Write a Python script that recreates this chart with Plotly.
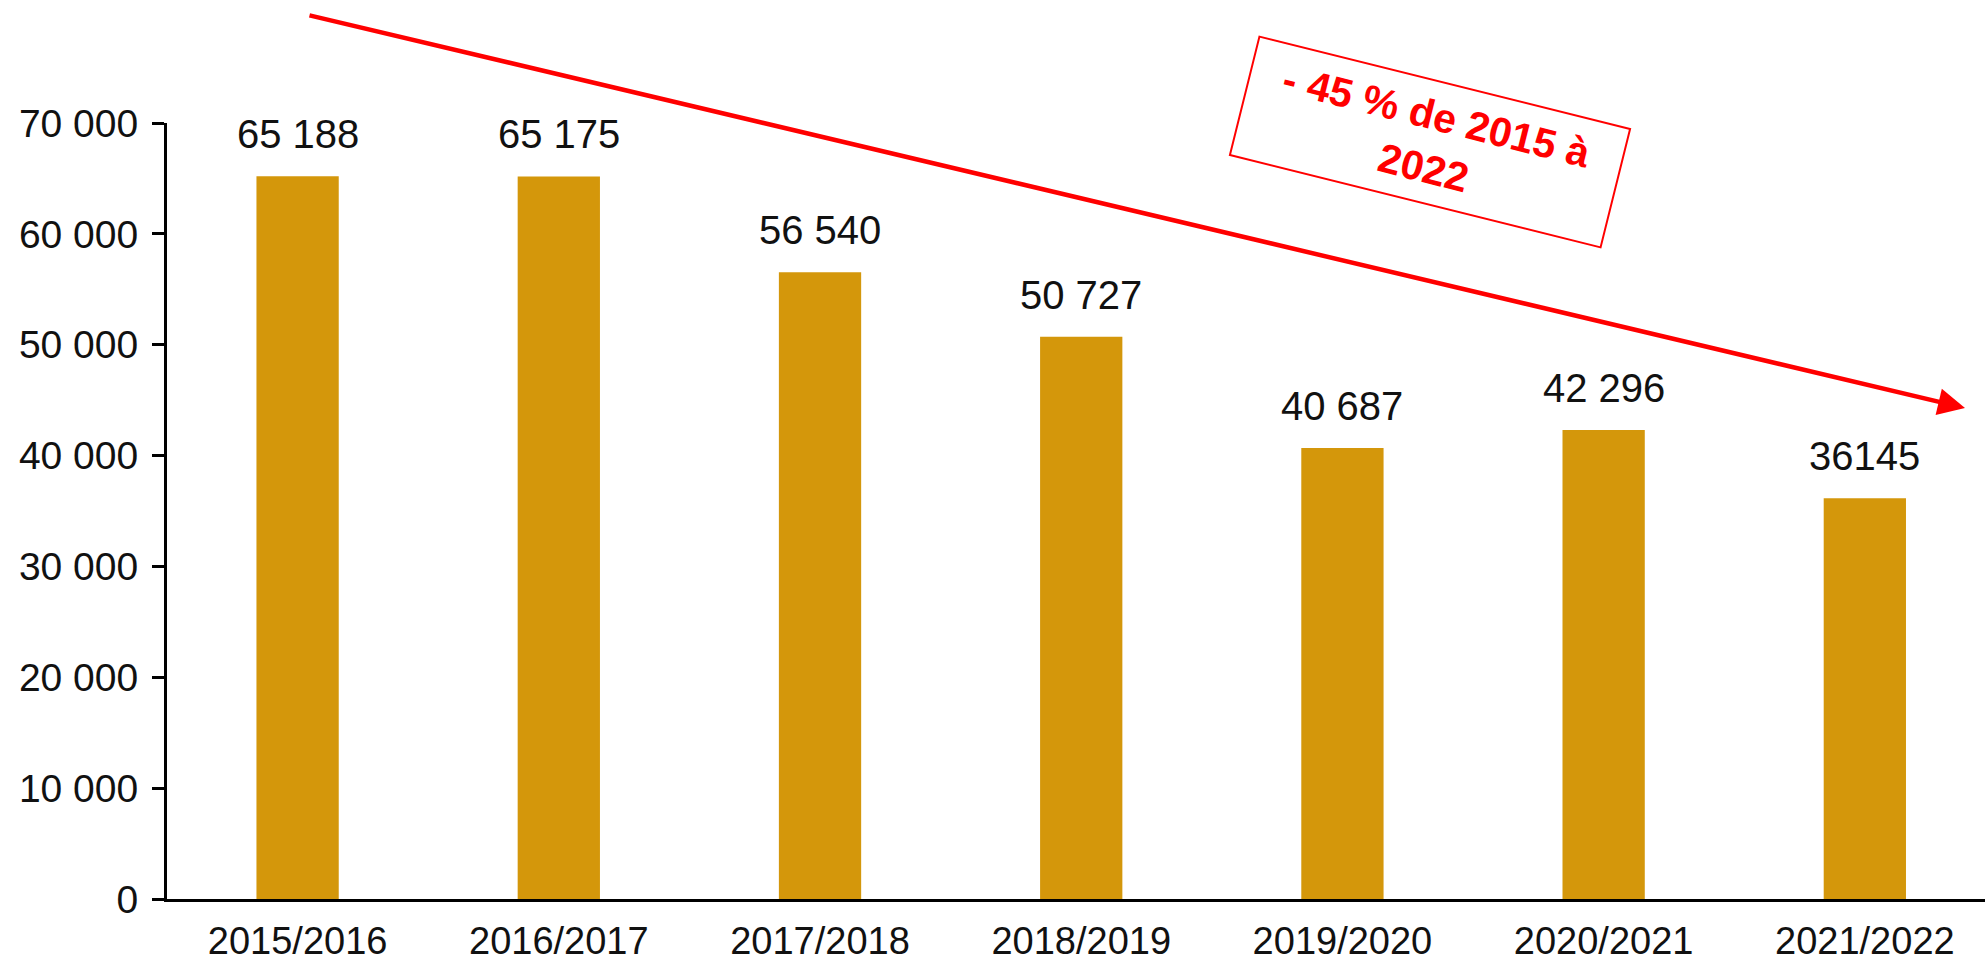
import plotly.graph_objects as go

categories = ["2015/2016", "2016/2017", "2017/2018", "2018/2019", "2019/2020", "2020/2021", "2021/2022"]
values = [65188, 65175, 56540, 50727, 40687, 42296, 36145]
value_labels = ["65 188", "65 175", "56 540", "50 727", "40 687", "42 296", "36145"]
tick_vals = [0, 10000, 20000, 30000, 40000, 50000, 60000, 70000]
tick_text = ["0", "10 000", "20 000", "30 000", "40 000", "50 000", "60 000", "70 000"]
trend_text = "- 45 % de 2015 à<br>2022"

BAR = "#D4970B"
RED = "#FF0000"
FONT = "Liberation Sans, Arial, sans-serif"

L, T, B = 167, 123, 62
PW, PH = 1985 - L, 961 - T - B

fig = go.Figure()
fig.add_trace(go.Bar(x=categories, y=values, marker=dict(color=BAR, line=dict(width=0)),
                     width=0.315, hoverinfo="skip"))

annotations = []
for c, v, t in zip(categories, values, value_labels):
    annotations.append(dict(x=c, y=v, text=t, showarrow=False, yanchor="bottom",
                            yshift=18, font=dict(family=FONT, size=40, color="#111111")))

# trend arrow
annotations.append(dict(x=(1965 - L) / PW, y=(899 - 408) / PH, xref="paper", yref="paper", text="",
                        showarrow=True, ax=-1657, ay=-393, axref="pixel", ayref="pixel",
                        arrowhead=2, arrowsize=1.2, arrowwidth=4.5, arrowcolor=RED, standoff=0))
# rotated box
annotations.append(dict(x=(1430 - L) / PW, y=(899 - 142) / PH, xref="paper", yref="paper",
                        text=trend_text, showarrow=False, textangle=14,
                        font=dict(family=FONT, size=41, color=RED, weight="bold"),
                        bordercolor=RED, borderwidth=2, bgcolor="white",
                        width=378, height=118, align="center", xanchor="center", yanchor="middle"))

fig.update_layout(
    width=1985, height=961,
    margin=dict(l=L, r=0, t=T, b=B, autoexpand=False),
    paper_bgcolor="white", plot_bgcolor="white",
    showlegend=False,
    annotations=annotations,
    xaxis=dict(type="category", range=[-0.5, 6.46], showline=True, linecolor="black", linewidth=3,
               ticks="", tickfont=dict(family=FONT, size=38, color="#111111"), showgrid=False,
               ticklabelstandoff=6, automargin=False),
    yaxis=dict(range=[0, 70000], tickvals=tick_vals, ticktext=tick_text, showline=True,
               linecolor="black", linewidth=3, ticks="outside", ticklen=12, tickwidth=3,
               tickcolor="black", showgrid=False, zeroline=False, automargin=False,
               tickfont=dict(family=FONT, size=39, color="#111111"), ticklabelstandoff=6),
)

fig.write_html("out.html", config={"displayModeBar": False},
               post_script="document.body.style.margin='0';document.body.style.overflow='hidden';")
